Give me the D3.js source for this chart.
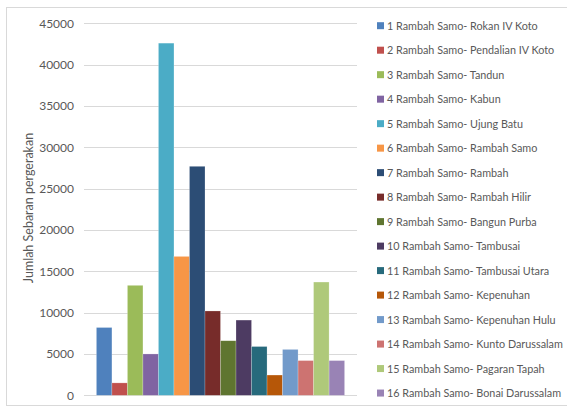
<!DOCTYPE html>
<html>
<head>
    <script src="https://d3js.org/d3.v7.min.js"></script>
    <title>Jumlah Sebaran pergerakan</title>
    <style>
        body { margin: 0; background: #fff; }
    </style>
</head>
<body>
    <svg id="plot" height="408" width="567"></svg>
    <script>
        // data
        const routes = [
            "1 Rambah Samo- Rokan IV Koto",
            "2 Rambah Samo- Pendalian IV Koto",
            "3 Rambah Samo- Tandun",
            "4 Rambah Samo- Kabun",
            "5 Rambah Samo- Ujung Batu",
            "6 Rambah Samo- Rambah Samo",
            "7 Rambah Samo- Rambah",
            "8 Rambah Samo- Rambah Hilir",
            "9 Rambah Samo- Bangun Purba",
            "10 Rambah Samo- Tambusai",
            "11 Rambah Samo- Tambusai Utara",
            "12 Rambah Samo- Kepenuhan",
            "13 Rambah Samo- Kepenuhan Hulu",
            "14 Rambah Samo- Kunto Darussalam",
            "15 Rambah Samo- Pagaran Tapah",
            "16 Rambah Samo- Bonai Darussalam"
        ];
        const values = [8200, 1500, 13300, 5000, 42600, 16800, 27700, 10200,
                        6600, 9100, 5900, 2450, 5550, 4200, 13700, 4200];
        const colors = ["#4F81BD", "#C0504D", "#9BBB59", "#8064A2", "#4BACC6", "#F79646",
                        "#2C4D75", "#772C2A", "#5F7530", "#4D3B62", "#276A7C", "#B65708",
                        "#729ACA", "#CD7371", "#AFC97A", "#9983B5"];
        const yTicks = [0, 5000, 10000, 15000, 20000, 25000, 30000, 35000, 40000, 45000];
        const yTitle = "Jumlah Sebaran pergerakan";

        const svg = d3.select('svg#plot');
        const font = "Lato, 'Open Sans', sans-serif";
        const textColor = "#595959";

        // outer chart border
        svg.append("rect")
            .attr("x", 6.5).attr("y", 7.5)
            .attr("width", 600).attr("height", 398)
            .style("fill", "none")
            .style("stroke", "#d9d9d9");

        const plot = {left: 84, right: 357, top: 23.3, bottom: 395.3};

        const y = d3.scaleLinear().domain([0, 45000]).range([plot.bottom, plot.top]);

        // one category, 16 series -> inner band for the series
        const groupPad = (plot.right - plot.left) * (1 - 1 / 1.1) / 2;
        const x = d3.scaleBand()
            .domain(routes)
            .range([plot.left + groupPad, plot.right - groupPad])
            .padding(0);

        // gridlines
        svg.append("g")
            .selectAll("line")
            .data(yTicks)
            .join("line")
            .attr("x1", plot.left).attr("x2", plot.right)
            .attr("y1", d => Math.round(y(d)) + 0.5)
            .attr("y2", d => Math.round(y(d)) + 0.5)
            .style("stroke", "#d9d9d9")
            .style("stroke-width", 1);

        // y tick labels
        svg.append("g")
            .selectAll("text")
            .data(yTicks)
            .join("text")
            .attr("x", 74)
            .attr("y", d => y(d))
            .attr("dy", "0.35em")
            .attr("text-anchor", "end")
            .style("font-family", font)
            .style("font-size", "12px")
            .style("fill", textColor)
            .text(d => d);

        // y axis title
        svg.append("text")
            .attr("transform", `translate(33,${208}) rotate(-90)`)
            .attr("text-anchor", "middle")
            .style("font-family", font)
            .style("font-size", "12.5px")
            .style("fill", textColor)
            .text(yTitle);

        // bars
        svg.append("g")
            .selectAll("rect")
            .data(values)
            .join("rect")
            .attr("x", (d, i) => x(routes[i]))
            .attr("y", d => y(d))
            .attr("width", x.bandwidth())
            .attr("height", d => y(0) - y(d))
            .style("fill", (d, i) => colors[i])
            .style("stroke", "rgba(255,255,255,0.35)")
            .style("stroke-width", 0.6);

        // legend
        const legend = svg.append("g")
            .selectAll("g")
            .data(routes)
            .join("g")
            .attr("transform", (d, i) => `translate(377,${26 + i * 24.49})`);

        legend.append("rect")
            .attr("x", 0).attr("y", -3.8)
            .attr("width", 7).attr("height", 7)
            .style("fill", (d, i) => colors[i]);

        legend.append("text")
            .attr("x", 10)
            .attr("y", 0)
            .attr("dy", "0.35em")
            .style("font-family", font)
            .style("font-size", "10.8px")
            .style("fill", textColor)
            .text(d => d);
    </script>
</body>
</html>
